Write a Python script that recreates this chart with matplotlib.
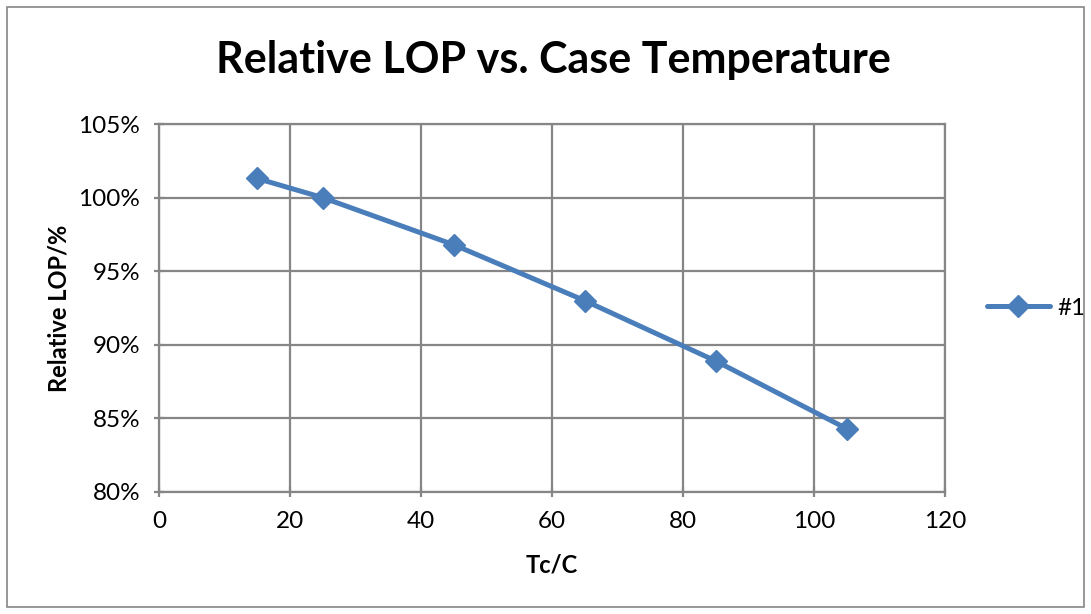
import matplotlib
matplotlib.use("Agg")
import matplotlib.pyplot as plt
from matplotlib.patches import Rectangle

plt.rcParams['font.family'] = ['Lato', 'DejaVu Sans']

temps = [15, 25, 45, 65, 85, 105]
rel_lop = [101.3, 100.0, 96.8, 93.0, 88.9, 84.3]
series_name = "#1"
xticks = [0, 20, 40, 60, 80, 100, 120]
yticks = [80, 85, 90, 95, 100, 105]

blue = "#4A7EBB"
grid = "#868686"

fig = plt.figure(figsize=(10.91, 6.14), dpi=100)
ax = fig.add_axes([0.1457, 0.1987, 0.7205, 0.5993])

ax.plot(temps, rel_lop, color=blue, lw=3.6, marker="D", markersize=11,
        label=series_name, solid_capstyle="round", zorder=3)

ax.set_xlim(0, 120)
ax.set_ylim(80, 105)
ax.set_xticks(xticks)
ax.set_yticks(yticks)
ax.set_yticklabels([f"{v}%" for v in yticks])
ax.grid(True, color=grid, lw=1.6)
for s in ax.spines.values():
    s.set_color(grid)
    s.set_linewidth(1.6)
ax.tick_params(direction="inout", length=7, width=1.6, color=grid,
               labelsize=17.5, pad=10)

ax.set_xlabel("Tc/C", fontsize=17, fontweight="bold", labelpad=16)
ax.set_ylabel("Relative LOP/%", fontsize=17, fontweight="bold", labelpad=6)
fig.suptitle("Relative LOP vs. Case Temperature", fontsize=31,
             fontweight="bold", x=0.507, y=0.935)

ax.legend(loc="center left", bbox_to_anchor=(1.025, 0.5), frameon=False,
          fontsize=17.5, handlelength=2.6, handletextpad=0.3)

fig.patches.append(Rectangle((0.006, 0.012), 0.988, 0.976, transform=fig.transFigure,
                             fill=False, edgecolor=grid, lw=1.2))

fig.savefig("out.png", dpi=100)
